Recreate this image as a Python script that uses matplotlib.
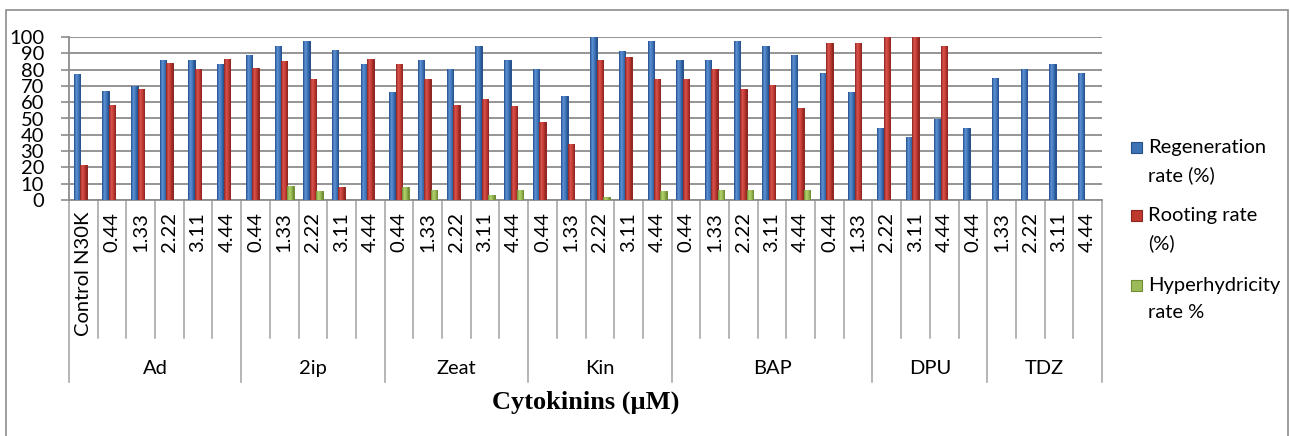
import matplotlib.pyplot as plt
import numpy as np
from matplotlib.patches import Rectangle
from matplotlib.colors import LinearSegmentedColormap
from matplotlib.transforms import blended_transform_factory

plt.rcParams['font.family'] = ['Lato', 'DejaVu Sans']

# data
groups = ["Ad", "2ip", "Zeat", "Kin", "BAP", "DPU", "TDZ"]
group_sizes = [6, 5, 5, 5, 7, 4, 4]
cat_labels = ["Control N30K", "0.44", "1.33", "2.22", "3.11", "4.44",
              "0.44", "1.33", "2.22", "3.11", "4.44",
              "0.44", "1.33", "2.22", "3.11", "4.44",
              "0.44", "1.33", "2.22", "3.11", "4.44",
              "0.44", "1.33", "2.22", "3.11", "4.44", "0.44", "1.33",
              "2.22", "3.11", "4.44", "0.44",
              "1.33", "2.22", "3.11", "4.44"]
regeneration = [77.5, 66.7, 69.7, 86, 86, 83.4,
                89, 94.5, 97.5, 92, 83.4,
                66.5, 86, 80.4, 94.5, 86,
                80.4, 63.8, 100, 91.6, 97.5,
                86, 86, 97.3, 94.5, 89, 77.9, 66.5,
                44.4, 38.9, 49.9, 44.4,
                75, 80.6, 83.4, 77.9]
rooting = [21.3, 58, 67.9, 84, 80.6, 86.7,
           81.2, 85.3, 74.2, 7.8, 86.7,
           83.4, 74.2, 58.3, 61.8, 57.9,
           47.9, 34.4, 86.1, 87.9, 74.2,
           74, 80.4, 68.3, 70.6, 56.2, 96.5, 96.1,
           100, 100, 94.5, None,
           None, None, None, None]
hyper = [None, None, None, None, None, None,
         None, 8.8, 5.5, None, None,
         8.2, 6.1, None, 3.1, 6.1,
         None, None, 1.8, None, 5.3,
         None, 6.1, 6.1, None, 6.1, None, None,
         None, None, None, None,
         None, None, None, None]
series_names = [["Regeneration", "rate (%)"], ["Rooting rate", "(%)"],
                ["Hyperhydricity", "rate %"]]

W, H = 1290, 436
fig = plt.figure(figsize=(W / 100, H / 100), dpi=100)

# outer chart frame
fig.patches.append(Rectangle((6 / W, -0.05), 1282 / W, 1.05 - 10 / H,
                             transform=fig.transFigure, fill=False,
                             edgecolor='#8c8c8c', linewidth=1.2))

ax = fig.add_axes([69 / W, 1 - 200 / H, (1102 - 69) / W, 163 / H])

n = len(cat_labels)
x = np.arange(n) + 0.5
bw = 0.225
face = ['#3d72b5', '#c0392e', '#9bbb59']
edge = ['#24508a', '#8c2520', '#6f8d34']
shades = [['#23508c', '#5f93d6', '#3f74b8', '#234f8a'],
          ['#8e2420', '#dc5550', '#c03a31', '#8a231f'],
          ['#6c8a30', '#b5d46e', '#98b955', '#6a8830']]
grad = np.linspace(0, 1, 32).reshape(1, -1)
for k, vals in enumerate([regeneration, rooting, hyper]):
    v = np.array([np.nan if a is None else a for a in vals], dtype=float)
    bars = ax.bar(x + (k - 1) * bw, v, bw, color=face[k], edgecolor=edge[k],
                  linewidth=0.7, zorder=3)
    cmap = LinearSegmentedColormap.from_list('s%d' % k, shades[k])
    for b, h in zip(bars, v):
        if np.isnan(h):
            continue
        x0 = b.get_x()
        im = ax.imshow(grad, extent=[x0, x0 + bw, 0, h], cmap=cmap,
                       aspect='auto', interpolation='bilinear', zorder=3.5)
        im.set_clip_path(b)

ax.set_xlim(0, n)
ax.set_ylim(0, 100)
ax.set_yticks(np.arange(0, 101, 10))
ax.yaxis.grid(True, color='#8c8c8c', linewidth=1.3, zorder=0)
ax.tick_params(axis='y', length=6, width=1.2, color='#8c8c8c', labelsize=14.5, pad=12)
ax.set_xticks([])
for s in ['top', 'right']:
    ax.spines[s].set_visible(False)
for s in ['left', 'bottom']:
    ax.spines[s].set_color('#8c8c8c')
    ax.spines[s].set_linewidth(1.3)

# category axis: labels and separators below the plot
tr = blended_transform_factory(ax.transData, fig.transFigure)
y_axis = 1 - 200 / H
y_inner = 1 - 338 / H
y_outer = 1 - 382 / H
bounds = np.concatenate([[0], np.cumsum(group_sizes)])
for i in range(n + 1):
    yb = y_outer if i in bounds else y_inner
    ax.plot([i, i], [y_axis, yb], transform=tr, color='#a0a0a0',
            linewidth=1.1, clip_on=False)
for i, lab in enumerate(cat_labels):
    ax.text(x[i], 1 - 212 / H, lab, transform=tr, rotation=90,
            ha='center', va='top', fontsize=14.5)
for g, lab in enumerate(groups):
    xc = (bounds[g] + bounds[g + 1]) / 2
    ax.text(xc, 1 - 368 / H, lab, transform=tr, ha='center', va='center',
            fontsize=14.5)

fig.text((69 + 1102) / 2 / W, 1 - 402 / H, "Cytokinins (\u00b5M)",
         ha='center', va='center', fontsize=19, fontweight='bold',
         family='Liberation Serif')

# legend, Excel style: marker beside the first line of each entry
leg_top = [147, 215, 285]
for k, lines in enumerate(series_names):
    y0 = leg_top[k]
    fig.patches.append(Rectangle((1131 / W, 1 - (y0 + 6) / H), 11 / W, 11 / H,
                                 transform=fig.transFigure, facecolor=face[k],
                                 edgecolor=edge[k], linewidth=0.8))
    for j, t in enumerate(lines):
        fig.text(1148 / W, 1 - (y0 + 28 * j) / H, t, ha='left', va='center',
                 fontsize=14.5)

fig.savefig('out.png', dpi=100)
